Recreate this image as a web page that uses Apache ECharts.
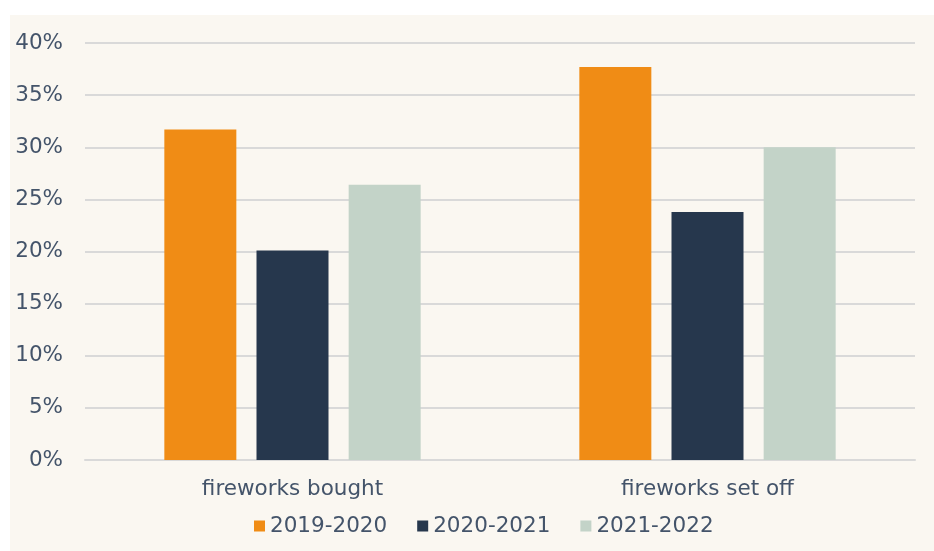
<!DOCTYPE html>
<html><head><meta charset="utf-8">
<script src="https://cdn.jsdelivr.net/npm/echarts@6/dist/echarts.min.js"></script>
<style>
html,body{margin:0;padding:0;background:#ffffff;}
#wrap{position:absolute;left:0;top:0;width:934px;height:551px;background:#fff;}
#chart{position:absolute;left:10px;top:15px;width:924px;height:536px;background:#FAF7F1;}
</style></head>
<body><div id="wrap"><div id="chart"></div></div>
<script>
const categories = ['fireworks bought', 'fireworks set off'];
const seriesNames = ['2019-2020', '2020-2021', '2021-2022'];
const values2019 = [31.7, 37.7];
const values2020 = [20.1, 23.8];
const values2021 = [26.4, 30.0];
const colors = ['#F08C15', '#26374D', '#C3D3C8'];

const chart = echarts.init(document.getElementById('chart'));
const font = 'DejaVu Sans, Verdana, sans-serif';
const txt = '#44546A';
const data = [values2019, values2020, values2021];
chart.setOption({
  backgroundColor: '#FAF7F1',
  animation: false,
  color: colors,
  grid: {left: 75, right: 19, top: 28, bottom: 91, containLabel: false},
  legend: {
    top: 500, left: 244, padding: 0,
    itemWidth: 11, itemHeight: 11, itemGap: 30,
    icon: 'rect',
    textStyle: {color: txt, fontFamily: font, fontSize: 21.5},
    data: seriesNames
  },
  xAxis: {
    type: 'category', data: categories,
    axisLine: {show: true, lineStyle: {color: '#D9D9D9', width: 2}},
    axisTick: {show: false},
    axisLabel: {color: txt, fontFamily: font, fontSize: 21.5, margin: 18, interval: 0}
  },
  yAxis: {
    type: 'value', min: 0, max: 40, interval: 5,
    axisLine: {show: false}, axisTick: {show: false},
    splitLine: {lineStyle: {color: '#D9D9D9', width: 2}},
    axisLabel: {color: txt, fontFamily: font, fontSize: 21.5, margin: 22, formatter: '{value}%'}
  },
  series: seriesNames.map((n, i) => ({
    name: n, type: 'bar', data: data[i], barWidth: 72, barGap: '28%',
    itemStyle: {color: colors[i]}
  }))
});
</script></body></html>
